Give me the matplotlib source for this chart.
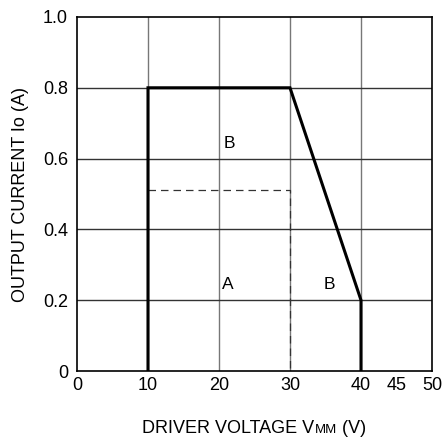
import matplotlib
matplotlib.use("Agg")
import matplotlib.pyplot as plt

plt.rcParams['font.family'] = ['Liberation Sans', 'DejaVu Sans']

# Betriebsbereich (dicke Linie)
limit_v = [10, 10, 30, 40, 40]
limit_i = [0, 0.8, 0.8, 0.2, 0]

# gestrichelte Grenze
dash_v = [10, 30, 30]
dash_i = [0.51, 0.51, 0]

# Bereichsbeschriftungen
region_labels = ['B', 'A', 'B']
region_v = [21.5, 21.3, 35.5]
region_i = [0.644, 0.243, 0.243]

x_ticks = [0, 10, 20, 30, 40, 45, 50]
y_ticks = [0, 0.2, 0.4, 0.6, 0.8, 1.0]
y_tick_labels = ['0', '0.2', '0.4', '0.6', '0.8', '1.0']

fig = plt.figure(figsize=(4.44, 4.41), dpi=100)
ax = fig.add_axes([0.1734, 0.1587, 0.7996, 0.8028])

# Gitter
for xv in [10, 20, 30, 40]:
    ax.axvline(xv, color='#777777', lw=1.0, zorder=1)
for yv in [0.2, 0.4, 0.6, 0.8]:
    ax.axhline(yv, color='#333333', lw=1.0, zorder=1)

ax.plot(limit_v, limit_i, color='black', lw=2.2, solid_joinstyle='miter', zorder=3)
ax.plot(dash_v, dash_i, color='#333333', lw=0.9, dashes=(6, 4), zorder=2)

for lab, xv, yv in zip(region_labels, region_v, region_i):
    ax.text(xv, yv, lab, ha='center', va='center', fontsize=12.5)

ax.set_xlim(0, 50)
ax.set_ylim(0, 1.0)
ax.set_xticks(x_ticks)
ax.set_yticks(y_ticks)
ax.set_yticklabels(y_tick_labels)
ax.tick_params(length=0, labelsize=13)
ax.tick_params(axis='x', pad=4.5)
ax.tick_params(axis='y', pad=6.5)
for s in ax.spines.values():
    s.set_linewidth(1.2)

fig.text(21 / 444, 1 - 194.5 / 441, 'OUTPUT CURRENT Io (A)', fontsize=13,
         rotation=90, ha='center', va='center')

# x-Achsenbeschriftung mit kleinem "MM"
fig.canvas.draw()
r = fig.canvas.get_renderer()
parts = [('DRIVER VOLTAGE V', 13), ('MM', 9.5), (' (V)', 13)]
texts = [fig.text(0, 0.018, s, fontsize=fs, ha='left', va='baseline') for s, fs in parts]
widths = [t.get_window_extent(r).width for t in texts]
x0 = 254 - sum(widths) / 2
for t, w in zip(texts, widths):
    t.set_x(x0 / 444)
    x0 += w

fig.savefig('out.png', dpi=100)
